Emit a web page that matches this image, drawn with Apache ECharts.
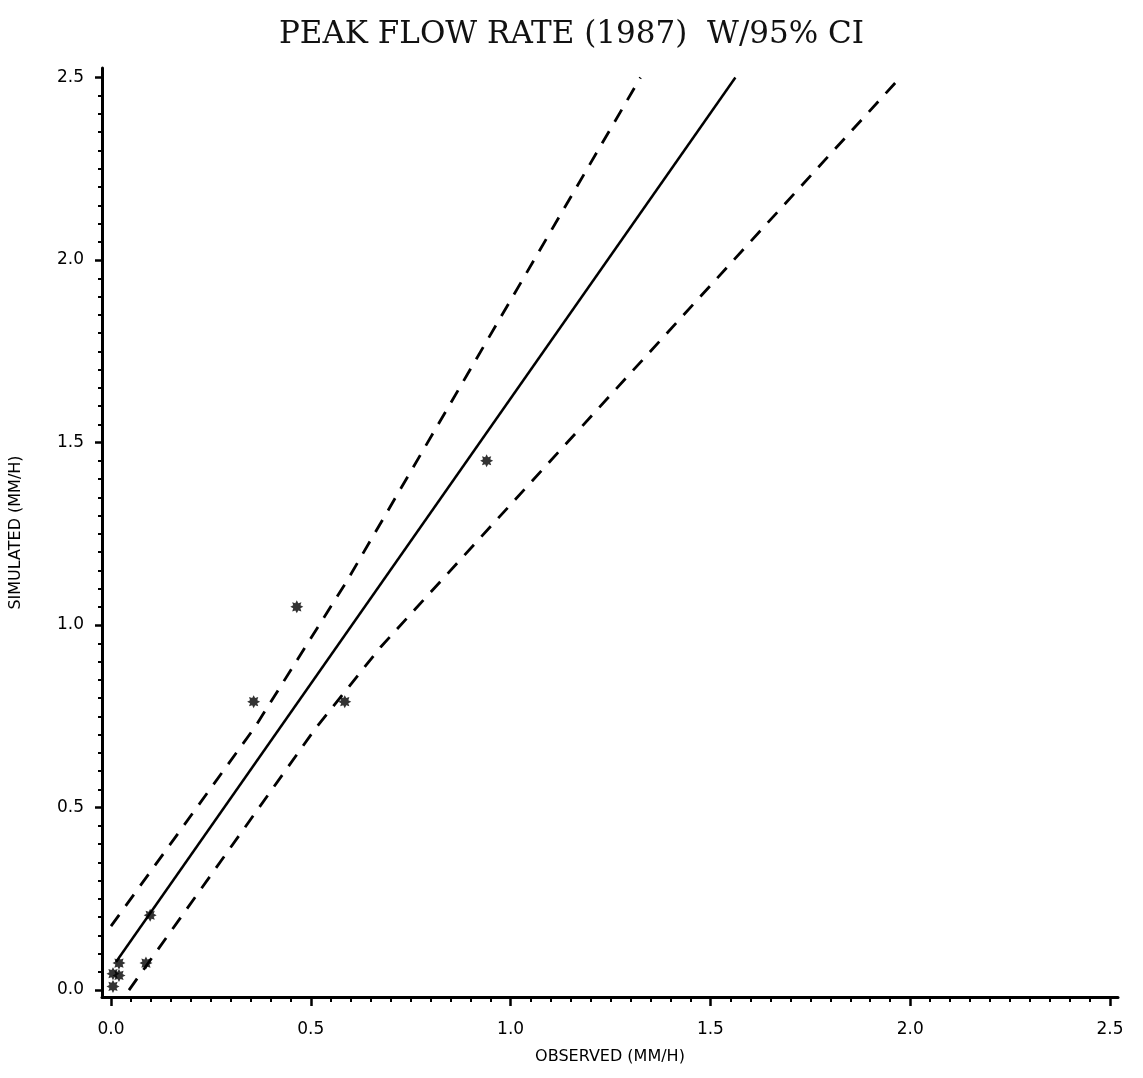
<!DOCTYPE html>
<html><head><meta charset="utf-8">
<script src="https://cdn.jsdelivr.net/npm/echarts@6/dist/echarts.min.js"></script>
<style>html,body{margin:0;padding:0;background:#fff}#c{width:1143px;height:1078px}</style>
</head><body><div id="c"></div>
<script>
// ---- data ----
const titleText = 'PEAK FLOW RATE (1987)  W/95% CI';
const xName = 'OBSERVED (MM/H)';
const yName = 'SIMULATED (MM/H)';
const xTickValues = [0, 0.5, 1.0, 1.5, 2.0, 2.5];
const yTickValues = [0, 0.5, 1.0, 1.5, 2.0, 2.5];
const observed  = [0.94, 0.465, 0.357, 0.585, 0.098, 0.0875, 0.02, 0.005, 0.02, 0.005];
const simulated = [1.45, 1.05, 0.79, 0.79, 0.205, 0.074, 0.074, 0.045, 0.04, 0.01];
const fitX   = [0.0125, 1.5625];
const fitY   = [0.077, 2.5];
const upperX = [0.0, 0.36, 0.59, 1.325];
const upperY = [0.175, 0.72, 1.12, 2.5];
const lowerX = [0.045, 0.5125, 0.675, 1.975];
const lowerY = [0.0, 0.718, 0.94, 2.5];

// ---- helpers ----
const zip = (a, b) => a.map((v, i) => [v, b[i]]);
const minorTicks = [];
for (let i = 1; i <= 50; i++) { if (i % 10 !== 0) minorTicks.push(+(i * 0.05).toFixed(2)); }
let starPath = 'path://';
for (let i = 0; i < 16; i++) {
  const r = i % 2 === 0 ? 10 : 6;
  const a = Math.PI * i / 8;
  starPath += (i === 0 ? 'M' : 'L') + (10 + r * Math.sin(a)).toFixed(2) + ' ' + (10 - r * Math.cos(a)).toFixed(2);
}
starPath += 'Z';

const fmt = v => v.toFixed(1);
const labelFont = { fontFamily: 'DejaVu Sans', fontSize: 17, color: '#000' };
const XMIN = -0.0225, XMAX = 2.52, YMIN = -0.019, YMAX = 2.526;

const chart = echarts.init(document.getElementById('c'), null, { renderer: 'canvas' });
chart.setOption({
  animation: false,
  backgroundColor: '#fff',
  title: {
    text: titleText, left: 'center', top: 14,
    textStyle: { fontFamily: 'DejaVu Serif', fontSize: 31, fontWeight: 'normal', color: '#111' }
  },
  grid: { left: 101, right: 25, top: 68, bottom: 81, containLabel: false },
  xAxis: [{
    type: 'value', min: XMIN, max: XMAX,
    name: xName, nameLocation: 'middle', nameGap: 52,
    nameTextStyle: { fontFamily: 'DejaVu Sans', fontSize: 16, color: '#000' },
    axisLine: { show: true, onZero: false, lineStyle: { color: '#000', width: 3 } },
    axisTick: { show: true, inside: false, length: 9, customValues: xTickValues, lineStyle: { color: '#000', width: 2.5 } },
    axisLabel: { show: true, customValues: xTickValues, formatter: fmt, margin: 24, ...labelFont },
    splitLine: { show: false }
  }, {
    type: 'value', min: XMIN, max: XMAX, position: 'bottom',
    axisLine: { show: false, onZero: false },
    axisTick: { show: true, inside: false, length: 5, customValues: minorTicks, lineStyle: { color: '#000', width: 2 } },
    axisLabel: { show: false },
    splitLine: { show: false }
  }],
  yAxis: [{
    type: 'value', min: YMIN, max: YMAX,
    name: yName, nameLocation: 'middle', nameGap: 78, nameRotate: 90,
    nameTextStyle: { fontFamily: 'DejaVu Sans', fontSize: 16, color: '#000' },
    axisLine: { show: true, onZero: false, lineStyle: { color: '#000', width: 3 } },
    axisTick: { show: true, inside: false, length: 7, customValues: yTickValues, lineStyle: { color: '#000', width: 2.5 } },
    axisLabel: { show: true, customValues: yTickValues, formatter: fmt, margin: 18, ...labelFont },
    splitLine: { show: false }
  }, {
    type: 'value', min: YMIN, max: YMAX, position: 'left',
    axisLine: { show: false, onZero: false },
    axisTick: { show: true, inside: false, length: 4, customValues: minorTicks, lineStyle: { color: '#000', width: 2 } },
    axisLabel: { show: false },
    splitLine: { show: false }
  }],
  series: [{
    type: 'line', name: 'fit', data: zip(fitX, fitY), showSymbol: false, symbol: 'none',
    lineStyle: { color: '#000', width: 2.5, type: 'solid' }, z: 3
  }, {
    type: 'line', name: 'upper', data: zip(upperX, upperY), symbol: 'none',
    lineStyle: { color: '#000', width: 2.8, type: [14, 11] }, z: 3
  }, {
    type: 'line', name: 'lower', data: zip(lowerX, lowerY), symbol: 'none',
    lineStyle: { color: '#000', width: 2.8, type: [14, 11] }, z: 3
  }, {
    type: 'scatter', name: 'obs', data: zip(observed, simulated),
    symbol: starPath, symbolSize: 13,
    itemStyle: { color: '#000' }, z: 4
  }]
});
</script></body></html>
